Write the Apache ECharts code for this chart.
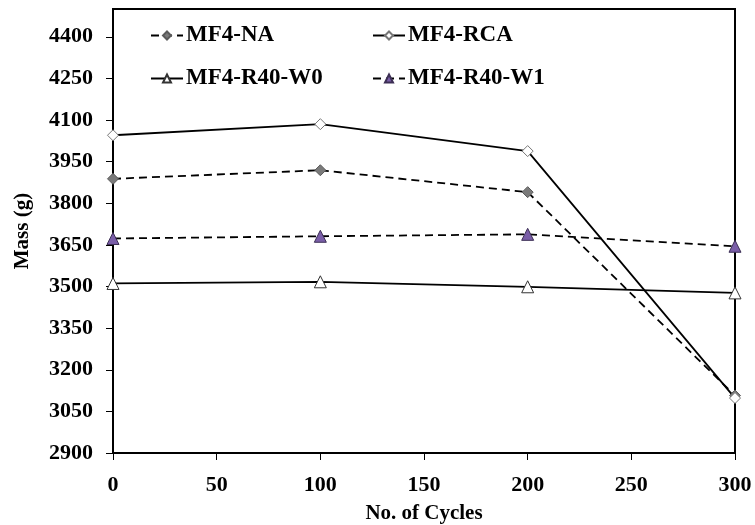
<!DOCTYPE html>
<html>
<head>
<meta charset="utf-8">
<script src="https://cdn.jsdelivr.net/npm/echarts@6/dist/echarts.min.js"></script>
<style>html,body{margin:0;padding:0;background:#fff}#c{width:755px;height:525px}</style>
</head>
<body>
<div id="c"></div>
<script>
const cycles = [0, 100, 200, 300];
const seriesNames = ['MF4-NA', 'MF4-RCA', 'MF4-R40-W0', 'MF4-R40-W1'];
const massNA = [3888, 3919, 3840, 3107];
const massRCA = [4045, 4085, 3988, 3098];
const massW0 = [3511, 3517, 3499, 3477];
const massW1 = [3673, 3681, 3688, 3645];
const yTicks = [2900, 3050, 3200, 3350, 3500, 3650, 3800, 3950, 4100, 4250, 4400];
const xTicks = [0, 50, 100, 150, 200, 250, 300];

const FONT = 'Liberation Serif';
const pairs = v => cycles.map((c, i) => [c, v[i]]);

const chart = echarts.init(document.getElementById('c'), null, {renderer: 'canvas'});

function legend(name, left, top) {
  return {
    data: [name], left: left, top: top, padding: 0,
    itemWidth: 32, itemHeight: 10, itemGap: 0,
    textStyle: {fontFamily: FONT, fontWeight: 'bold', fontSize: 23, color: '#000', padding: [0, 0, 0, -2]}
  };
}

chart.setOption({
  animation: false,
  backgroundColor: '#fff',
  grid: {left: 113, right: 20, top: 9, bottom: 72, show: true, borderColor: '#000', borderWidth: 2,
    containLabel: false, outerBoundsMode: 'none'},
  legend: [
    legend(seriesNames[0], 150, 24),
    legend(seriesNames[1], 372, 24),
    legend(seriesNames[2], 150, 67),
    legend(seriesNames[3], 372, 67)
  ],
  xAxis: {
    type: 'value', min: 0, max: 300, interval: 50,
    name: 'No. of Cycles', nameLocation: 'middle', nameGap: 50,
    nameTextStyle: {fontFamily: FONT, fontWeight: 'bold', fontSize: 21, color: '#000'},
    axisLine: {show: true, lineStyle: {color: '#000', width: 2}},
    axisTick: {show: true, inside: false, length: 7, lineStyle: {color: '#000', width: 1}},
    axisLabel: {fontFamily: FONT, fontWeight: 'bold', fontSize: 22, color: '#000', margin: 21,
      formatter: v => xTicks.includes(v) ? String(v) : ''},
    splitLine: {show: false}
  },
  yAxis: {
    type: 'value', min: 2900, max: 4500, interval: 150,
    name: 'Mass (g)', nameLocation: 'middle', nameGap: 80,
    nameTextStyle: {fontFamily: FONT, fontWeight: 'bold', fontSize: 21, color: '#000'},
    axisLine: {show: true, lineStyle: {color: '#000', width: 2}},
    axisTick: {show: true, inside: false, length: 7, lineStyle: {color: '#000', width: 1}},
    axisLabel: {fontFamily: FONT, fontWeight: 'bold', fontSize: 22, color: '#000', margin: 20,
      showMaxLabel: false,
      formatter: v => yTicks.includes(v) ? String(v) : ''},
    splitLine: {show: false}
  },
  series: [
    {name: seriesNames[0], type: 'line', data: pairs(massNA), symbol: 'diamond', symbolSize: 11,
      lineStyle: {color: '#000', width: 1.8, type: [8, 5]},
      itemStyle: {color: '#7a7a7a', borderColor: '#5a5a5a', borderWidth: 1}},
    {name: seriesNames[1], type: 'line', data: pairs(massRCA), symbol: 'diamond', symbolSize: 11,
      lineStyle: {color: '#000', width: 1.8},
      itemStyle: {color: '#fff', borderColor: '#777', borderWidth: 1}},
    {name: seriesNames[2], type: 'line', data: pairs(massW0), symbol: 'triangle', symbolSize: 12,
      lineStyle: {color: '#000', width: 1.8},
      itemStyle: {color: '#fff', borderColor: '#333', borderWidth: 1}},
    {name: seriesNames[3], type: 'line', data: pairs(massW1), symbol: 'triangle', symbolSize: 12,
      lineStyle: {color: '#000', width: 1.8, type: [8, 5]},
      itemStyle: {color: '#7a5ea8', borderColor: '#3d2f55', borderWidth: 1}}
  ]
});
</script>
</body>
</html>
